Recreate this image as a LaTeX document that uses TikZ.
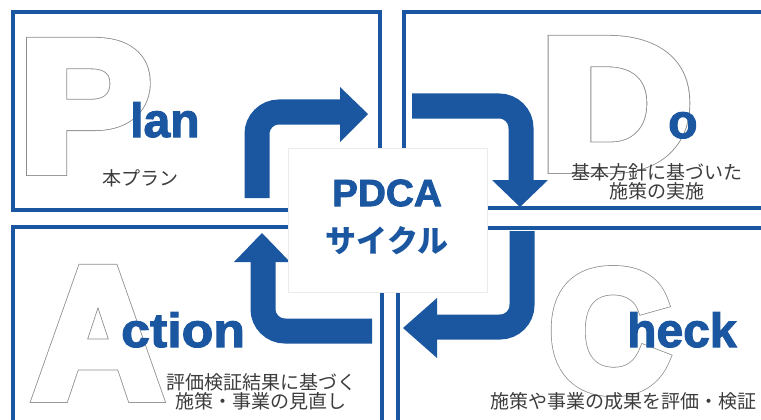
\documentclass[tikz,border=0pt]{standalone}
\usepackage{fontspec}
\setmainfont{Liberation Sans}
\newfontfamily\jpfont{Noto Sans CJK JP}
\newfontfamily\heavyfont[FakeBold=2.2]{Liberation Sans Bold}
\definecolor{pdcablue}{HTML}{1B56A0}
\definecolor{jpgray}{HTML}{3C3C3C}
\newcommand\fatoutline[1]{\rlap{\color{black!45}\special{pdf:literal direct 0 j 0.55 0.55 0.55 RG 11.6 w 2 Tr}#1\special{pdf:literal direct 0 Tr}}{\color{white}\special{pdf:literal direct 0 j 1 1 1 RG 10 w 2 Tr}#1\special{pdf:literal direct 0 Tr}}}
\begin{document}
\begin{tikzpicture}[x=1pt,y=-1pt,
  frame/.style={draw=pdcablue,line width=3.5pt},
  bigletter/.style={inner sep=0pt,anchor=base west,font=\bfseries\fontsize{185}{185}\selectfont},
  suffix/.style={inner sep=0pt,anchor=base west,text=pdcablue,font=\heavyfont\fontsize{48}{48}\selectfont},
  jptext/.style={inner sep=0pt,align=center,text=jpgray,font=\jpfont\fontsize{19}{19}\selectfont},
  band/.style={draw=pdcablue,line width=25pt,rounded corners=22pt},
  head/.style={fill=pdcablue}]
\useasboundingbox (0,0) rectangle (761,420);
\clip (0,0) rectangle (761,420);
% frames
\draw[frame] (13,12) rectangle (380,210);
\draw[frame] (404,12) rectangle (775,208);
\draw[frame] (13,227) rectangle (382,440);
\draw[frame] (398,228) rectangle (775,440);
% big outlined letters
\node[bigletter] (bigP) at (19,170) {\scalebox{1.07}[1]{\fatoutline{P}}};
\node[bigletter] (bigD) at (540,168) {\scalebox{1.14}[1]{\fatoutline{D}}};
\node[bigletter] (bigA) at (33,397) {\scalebox{0.97}[1]{\fatoutline{A}}};
\node[bigletter] (bigC) at (549,390) {\scalebox{0.905}[0.925]{\fatoutline{C}}};
% blue suffixes
\node[suffix] (lan) at (130,137) {lan};
\node[suffix] (o) at (668,138) {o};
\node[suffix] (ction) at (121,347) {\scalebox{1.08}[1]{ction}};
\node[suffix] (heck) at (627,347) {heck};
% Japanese labels
\node[jptext] (planjp) at (140,178) {本プラン};
\node[jptext] (dojp) at (657,182) {基本方針に基づいた\\[0pt]施策の実施};
\node[jptext] (actjp) at (261,392) {評価検証結果に基づく\\[0pt]施策・事業の見直し};
\node[jptext] (chkjp) at (623,401) {施策や事業の成果を評価・検証};
% arrows
\draw[band] (257,198) -- (257,112) -- (341,112);
\fill[head] (340,87) -- (368,114) -- (340,142) -- cycle;
\draw[band] (412,106) -- (521,106) -- (521,181);
\fill[head] (492,180) -- (548,180) -- (520,207) -- cycle;
\draw[band] (522,231) -- (522,327) -- (436,327);
\fill[head] (437,298) -- (437,358) -- (403,328) -- cycle;
\draw[band] (372,331) -- (263,331) -- (263,261);
\fill[head] (234,262) -- (290,262) -- (262,233) -- cycle;
% centre
\node[draw=black!8,fill=white,minimum width=199pt,minimum height=144pt,inner sep=0pt] (centre) at (387.5,220) {};
\node[inner sep=0pt,text=pdcablue,font=\heavyfont\fontsize{38}{38}\selectfont] (pdca) at (387,193) {\scalebox{1.02}[1]{PDCA}};
\node[inner sep=0pt,text=pdcablue,font=\jpfont\bfseries\fontsize{31}{31}\selectfont] (cycle) at (387,241) {サイクル};
\end{tikzpicture}
\end{document}
